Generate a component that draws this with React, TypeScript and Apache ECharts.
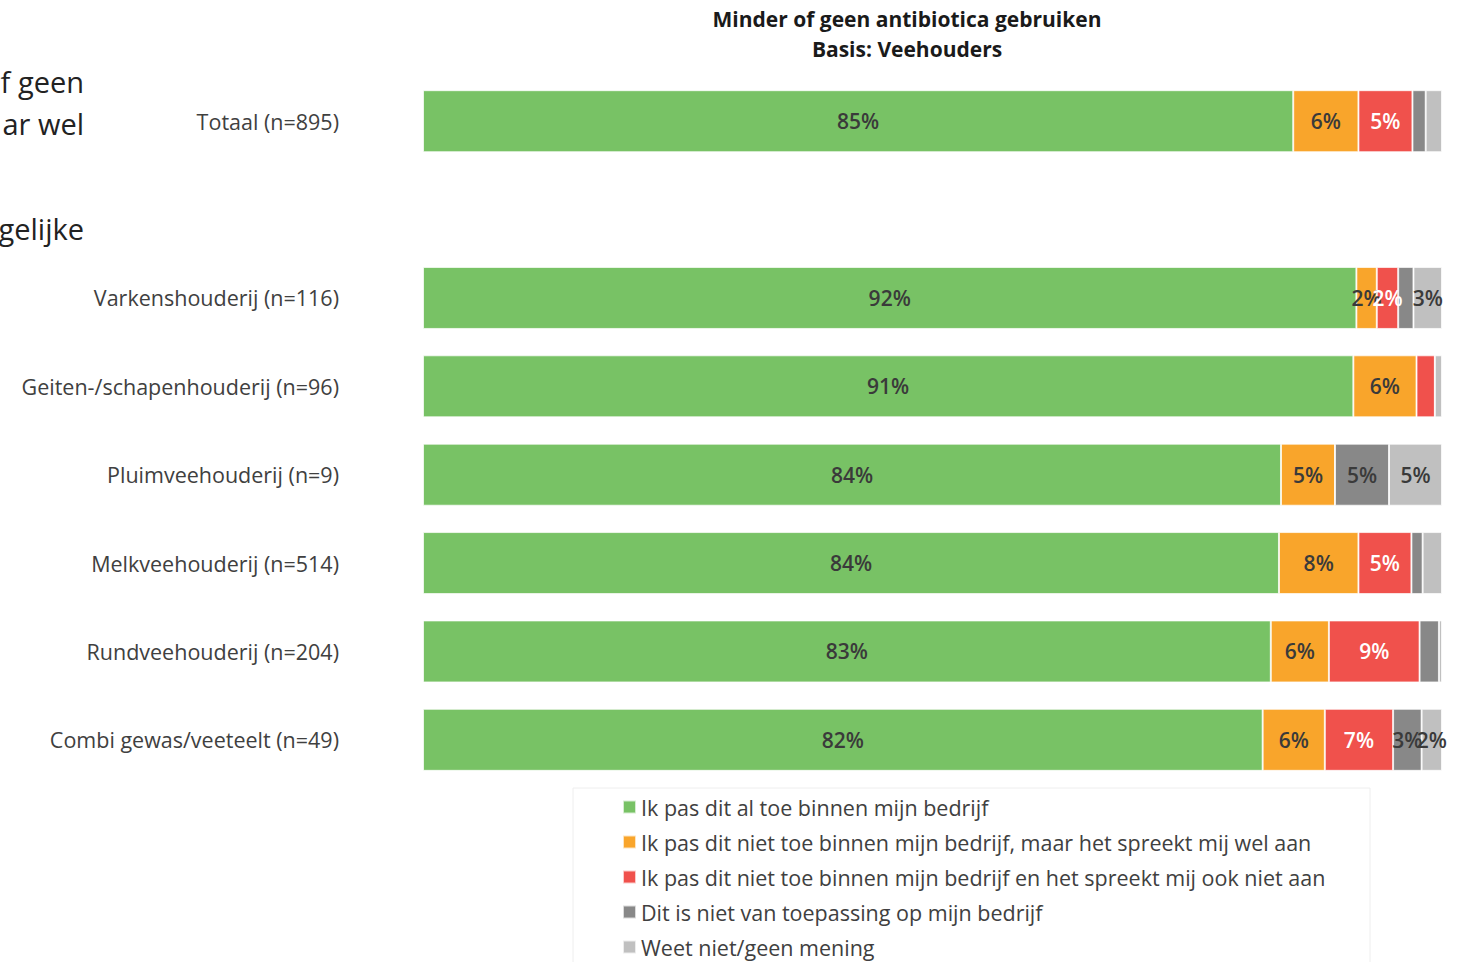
import React, { useEffect, useRef } from "react";
import * as echarts from "echarts";

const categories = [
  "Totaal (n=895)",
  "",
  "Varkenshouderij (n=116)",
  "Geiten-/schapenhouderij (n=96)",
  "Pluimveehouderij (n=9)",
  "Melkveehouderij (n=514)",
  "Rundveehouderij (n=204)",
  "Combi gewas/veeteelt (n=49)",
];

const seriesNames = [
  "Ik pas dit al toe binnen mijn bedrijf",
  "Ik pas dit niet toe binnen mijn bedrijf, maar het spreekt mij wel aan",
  "Ik pas dit niet toe binnen mijn bedrijf en het spreekt mij ook niet aan",
  "Dit is niet van toepassing op mijn bedrijf",
  "Weet niet/geen mening",
];

const toepassen = [85.4, null, 91.6, 91.3, 84.2, 84.0, 83.2, 82.4];
const spreektAan = [6.4, null, 2.0, 6.2, 5.3, 7.8, 5.7, 6.1];
const spreektNiet = [5.3, null, 2.1, 1.8, 0, 5.2, 8.9, 6.7];
const nietVanToepassing = [1.3, null, 1.5, 0, 5.3, 1.1, 1.9, 2.8];
const weetNiet = [1.6, null, 2.8, 0.7, 5.2, 1.9, 0.3, 2.0];

const sideTexts = ["f geen", "ar wel", "gelijke"];

const colors = ["#78C265", "#F9A52B", "#F0514C", "#888888", "#C0C0C0"];
const labelColors = ["#3a3a3a", "#3a3a3a", "#ffffff", "#3a3a3a", "#3a3a3a"];
const FONT = "'Open Sans', sans-serif";

export default function App() {
  const ref = useRef<HTMLDivElement>(null);
  useEffect(() => {
    if (!ref.current) return;
    const chart = echarts.init(ref.current, undefined, { renderer: "svg" });
    const all = [toepassen, spreektAan, spreektNiet, nietVanToepassing, weetNiet];
    const series = all.map((vals, i) => ({
      name: seriesNames[i],
      type: "bar",
      stack: "total",
      barWidth: 62,
      itemStyle: { color: colors[i], borderColor: "rgba(255,255,255,0.7)", borderWidth: 1 },
      data: vals.map((v) =>
        v === null
          ? "-"
          : {
              value: v,
              label: {
                show: v >= 2,
              },
            }
      ),
      label: {
        position: "inside",
        color: labelColors[i],
        fontSize: 21,
        fontWeight: 600,
        fontFamily: FONT,
        formatter: (p: any) => Math.round(p.value) + "%",
      },
    }));
    chart.setOption({
      animation: false,
      color: colors,
      title: {
        text: "Minder of geen antibiotica gebruiken\nBasis: Veehouders",
        left: 907,
        textAlign: "center",
        top: 4,
        padding: 0,
        textStyle: {
          fontFamily: FONT,
          fontSize: 21,
          fontWeight: "bold",
          color: "#1a1a1a",
          lineHeight: 30,
        },
      },
      grid: { left: 423, right: 22, top: 77, height: 707 },
      xAxis: { type: "value", min: 0, max: 100, show: false },
      yAxis: {
        type: "category",
        data: categories,
        inverse: true,
        axisLine: { show: false },
        axisTick: { show: false },
        axisLabel: { fontSize: 21.5, color: "#404040", margin: 84, fontFamily: FONT },
      },
      legend: {
        orient: "vertical",
        left: 622,
        top: 796,
        padding: 0,
        itemWidth: 13,
        itemHeight: 13,
        itemGap: 13,
        icon: "rect",
        data: seriesNames,
        textStyle: { fontSize: 21.5, color: "#404040", fontFamily: FONT, lineHeight: 22 },
      },
      graphic: [
        {
          type: "rect",
          shape: { x: 573, y: 788, width: 797, height: 190 },
          style: { fill: "none", stroke: "#eeeeee", lineWidth: 1 },
          silent: true,
        },
        ...sideTexts.map((t, i) => ({
          type: "text",
          x: 84,
          y: [81, 123, 228][i],
          style: {
            text: t,
            textAlign: "right",
            textVerticalAlign: "middle",
            fontSize: 29,
            fontFamily: FONT,
            fill: "#222222",
          },
        })),
      ],
      series,
    });
    return () => chart.dispose();
  }, []);
  return (
    <div
      ref={ref}
      style={{ position: "absolute", left: 0, top: 0, width: 1464, height: 962, background: "#fff" }}
    />
  );
}
